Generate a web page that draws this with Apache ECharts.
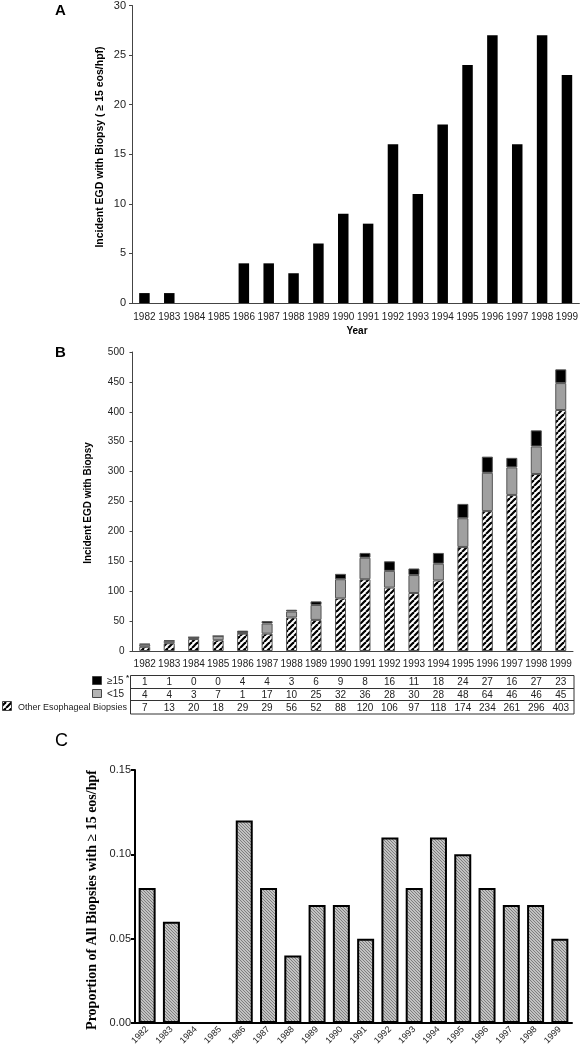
<!DOCTYPE html>
<html>
<head>
<meta charset="utf-8">
<script src="https://cdn.jsdelivr.net/npm/echarts@6/dist/echarts.min.js"></script>
<style>
  html, body { margin: 0; padding: 0; background: #fff; }
  #chart { width: 581px; height: 1050px; }
</style>
</head>
<body>
<div id="chart"></div>
<script>
// ---- Data ----
const years = ['1982','1983','1984','1985','1986','1987','1988','1989','1990','1991','1992','1993','1994','1995','1996','1997','1998','1999'];
// Panel A: incident EGD with biopsy (>= 15 eos/hpf)
const incidentGe15 = [1, 1, 0, 0, 4, 4, 3, 6, 9, 8, 16, 11, 18, 24, 27, 16, 27, 23];
// Panel B: stacked components
const ge15 = [1, 1, 0, 0, 4, 4, 3, 6, 9, 8, 16, 11, 18, 24, 27, 16, 27, 23];
const lt15 = [4, 4, 3, 7, 1, 17, 10, 25, 32, 36, 28, 30, 28, 48, 64, 46, 46, 45];
const otherBiopsies = [7, 13, 20, 18, 29, 29, 56, 52, 88, 120, 106, 97, 118, 174, 234, 261, 296, 403];
// Panel C: proportion of all biopsies with >= 15 eos/hpf
const proportion = [0.08, 0.06, 0, 0, 0.12, 0.08, 0.04, 0.07, 0.07, 0.05, 0.11, 0.08, 0.11, 0.10, 0.08, 0.07, 0.07, 0.05];

// ---- Patterns ----
function hatchSlash(size, lw) {
  const c = document.createElement('canvas');
  c.width = size; c.height = size;
  const g = c.getContext('2d');
  g.fillStyle = '#fff'; g.fillRect(0, 0, size, size);
  g.strokeStyle = '#000'; g.lineWidth = lw;
  for (let k = -1; k <= 1; k++) {
    g.beginPath();
    g.moveTo(k * size, size);
    g.lineTo(k * size + size, 0);
    g.stroke();
  }
  return c;
}
function hatchBack(size, lw, bg, fg) {
  const c = document.createElement('canvas');
  c.width = size; c.height = size;
  const g = c.getContext('2d');
  g.fillStyle = bg; g.fillRect(0, 0, size, size);
  g.strokeStyle = fg; g.lineWidth = lw;
  for (let k = -1; k <= 1; k++) {
    g.beginPath();
    g.moveTo(k * size, 0);
    g.lineTo(k * size + size, size);
    g.stroke();
  }
  return c;
}
const slashPat = { image: hatchSlash(6, 2.2), repeat: 'repeat' };
const greyPat = { image: hatchBack(3, 0.9, '#c2c2c2', '#767676'), repeat: 'repeat' };

const FONT = 'Liberation Sans, Arial, sans-serif';
const SERIF = 'Liberation Serif, Times New Roman, serif';
const TXT = '#222';

const chart = echarts.init(document.getElementById('chart'), null, { renderer: 'canvas' });

const thinAxis = { lineStyle: { color: '#444', width: 1 } };

function tableAxis(data, offset) {
  return {
    type: 'category', gridIndex: 1, data: data.map(String), position: 'bottom', offset: offset,
    axisLine: { show: false }, axisTick: { show: false }, splitLine: { show: false },
    axisLabel: { interval: 0, margin: 8, fontSize: 10, fontFamily: FONT, color: TXT }
  };
}

const option = {
  animation: false,
  backgroundColor: '#fff',
  grid: [
    { left: 132, top: 4, width: 450, height: 299 },
    { left: 132.5, top: 352, width: 440.5, height: 299 },
    { left: 135, top: 770, width: 437, height: 253 }
  ],
  xAxis: [
    { type: 'category', gridIndex: 0, data: years,
      axisLine: thinAxis, axisTick: { alignWithLabel: true, length: 3, lineStyle: { color: '#444' } },
      axisLabel: { interval: 0, margin: 9, fontSize: 10, fontFamily: FONT, color: TXT } },
    { type: 'category', gridIndex: 1, data: years,
      axisLine: thinAxis, axisTick: { alignWithLabel: true, length: 4, lineStyle: { color: '#444' } },
      axisLabel: { interval: 0, margin: 8, fontSize: 10, fontFamily: FONT, color: TXT } },
    tableAxis(ge15, 18.5),
    tableAxis(lt15, 31),
    tableAxis(otherBiopsies, 44.5),
    { type: 'category', gridIndex: 2, data: years,
      axisLine: { lineStyle: { color: '#000', width: 2 } },
      axisTick: { alignWithLabel: true, length: 4, lineStyle: { color: '#000', width: 2 } },
      axisLabel: { interval: 0, rotate: 45, margin: 5, fontSize: 9, fontFamily: FONT, color: TXT } }
  ],
  yAxis: [
    { type: 'value', gridIndex: 0, min: 0, max: 30, interval: 5,
      axisLine: { show: true, lineStyle: { color: '#444', width: 1 } },
      axisTick: { show: true, length: 3, lineStyle: { color: '#444' } },
      splitLine: { show: false },
      axisLabel: { margin: 6, fontSize: 11, fontFamily: FONT, color: TXT } },
    { type: 'value', gridIndex: 1, min: 0, max: 500, interval: 50,
      axisLine: { show: true, lineStyle: { color: '#444', width: 1 } },
      axisTick: { show: true, length: 3, lineStyle: { color: '#444' } },
      splitLine: { show: false },
      axisLabel: { margin: 8, fontSize: 10, fontFamily: FONT, color: TXT } },
    { type: 'value', gridIndex: 2, min: 0, max: 0.15, interval: 0.05,
      axisLine: { show: true, lineStyle: { color: '#000', width: 2 } },
      axisTick: { show: true, length: 4, lineStyle: { color: '#000', width: 2 } },
      splitLine: { show: false },
      axisLabel: { margin: 4, fontSize: 11, fontFamily: FONT, color: TXT,
        formatter: v => v.toFixed(2) } }
  ],
  series: [
    { type: 'bar', xAxisIndex: 0, yAxisIndex: 0, data: incidentGe15, barWidth: 10.5,
      itemStyle: { color: '#000' } },
    { type: 'bar', xAxisIndex: 1, yAxisIndex: 1, stack: 'b', data: otherBiopsies, barWidth: 11,
      itemStyle: { color: slashPat, borderColor: '#555', borderWidth: 1 } },
    { type: 'bar', xAxisIndex: 1, yAxisIndex: 1, stack: 'b', data: lt15, barWidth: 11,
      itemStyle: { color: '#a0a0a0', borderColor: '#555', borderWidth: 1 } },
    { type: 'bar', xAxisIndex: 1, yAxisIndex: 1, stack: 'b', data: ge15, barWidth: 11,
      itemStyle: { color: '#000', borderColor: '#555', borderWidth: 1 } },
    { type: 'bar', xAxisIndex: 5, yAxisIndex: 2, data: proportion, barWidth: 17,
      itemStyle: { color: greyPat, borderColor: '#000', borderWidth: 2 } }
  ],
  graphic: [
    // panel letters
    { type: 'text', left: 55, top: 3, silent: true,
      style: { text: 'A', font: 'bold 15px ' + FONT, fill: '#000' } },
    { type: 'text', left: 55, top: 345, silent: true,
      style: { text: 'B', font: 'bold 15px ' + FONT, fill: '#000' } },
    { type: 'text', left: 55, top: 732, silent: true,
      style: { text: 'C', font: '18px ' + FONT, fill: '#000' } },
    // axis titles
    { type: 'text', x: 100.5, y: 147, rotation: Math.PI / 2, silent: true,
      style: { text: 'Incident EGD with Biopsy ( \u2265 15 eos/hpf)', font: 'bold 10.5px ' + FONT, fill: '#000',
        textAlign: 'center', textVerticalAlign: 'middle' } },
    { type: 'text', x: 357, y: 331, silent: true,
      style: { text: 'Year', font: 'bold 10px ' + FONT, fill: '#000',
        textAlign: 'center', textVerticalAlign: 'middle' } },
    { type: 'text', x: 88.5, y: 503, rotation: Math.PI / 2, silent: true,
      style: { text: 'Incident EGD with Biopsy', font: 'bold 10px ' + FONT, fill: '#000',
        textAlign: 'center', textVerticalAlign: 'middle' } },
    { type: 'text', x: 92, y: 900, rotation: Math.PI / 2, silent: true,
      style: { text: 'Proportion of All Biopsies with \u2265 15 eos/hpf', font: 'bold 14px ' + SERIF, fill: '#000',
        textAlign: 'center', textVerticalAlign: 'middle' } },
    // table frame
    { type: 'rect', silent: true, shape: { x: 130.5, y: 675.5, width: 443.5, height: 38.5 },
      style: { fill: 'none', stroke: '#333', lineWidth: 1 } },
    { type: 'line', silent: true, shape: { x1: 130.5, y1: 688.5, x2: 574, y2: 688.5 },
      style: { stroke: '#333', lineWidth: 1 } },
    { type: 'line', silent: true, shape: { x1: 130.5, y1: 700.5, x2: 574, y2: 700.5 },
      style: { stroke: '#333', lineWidth: 1 } },
    // table row legends
    { type: 'rect', silent: true, shape: { x: 92.5, y: 676.5, width: 9, height: 8 },
      style: { fill: '#000', stroke: '#444', lineWidth: 1 } },
    { type: 'text', x: 107, y: 681.5, silent: true,
      style: { text: '\u226515', font: '10px ' + FONT, fill: TXT, textVerticalAlign: 'middle' } },
    { type: 'text', x: 126, y: 677.5, silent: true,
      style: { text: '*', font: 'bold 8px ' + FONT, fill: TXT, textVerticalAlign: 'middle' } },
    { type: 'rect', silent: true, shape: { x: 92.5, y: 689.5, width: 9, height: 8 },
      style: { fill: '#b4b4b4', stroke: '#444', lineWidth: 1 } },
    { type: 'text', x: 107, y: 694, silent: true,
      style: { text: '<15', font: '10px ' + FONT, fill: TXT, textVerticalAlign: 'middle' } },
    { type: 'rect', silent: true, shape: { x: 2.5, y: 701.5, width: 9, height: 9 },
      style: { fill: slashPat, stroke: '#444', lineWidth: 1 } },
    { type: 'text', x: 18, y: 707.5, silent: true,
      style: { text: 'Other Esophageal Biopsies', font: '9px ' + FONT, fill: TXT, textVerticalAlign: 'middle' } }
  ]
};
chart.setOption(option);
</script>
</body>
</html>
